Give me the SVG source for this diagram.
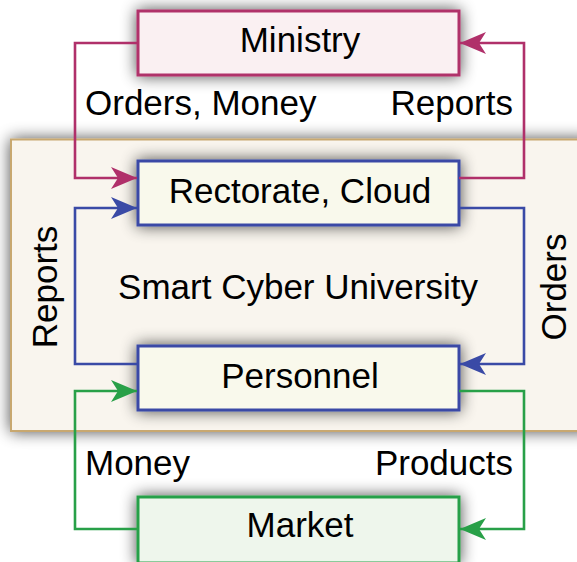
<svg xmlns="http://www.w3.org/2000/svg" width="577" height="562" viewBox="0 0 577 562">
<defs>
<filter id="sh" x="-20%" y="-40%" width="140%" height="180%">
<feGaussianBlur in="SourceAlpha" stdDeviation="8"/>
<feComponentTransfer><feFuncA type="linear" slope="0.7"/></feComponentTransfer>
<feMerge><feMergeNode/><feMergeNode in="SourceGraphic"/></feMerge>
</filter>
<marker id="ap" markerUnits="userSpaceOnUse" markerWidth="26" markerHeight="22" refX="26" refY="11" orient="auto"><path d="M0,0 L26,11 L0,22 L7,11 z" fill="#b0306a"/></marker>
<marker id="ab" markerUnits="userSpaceOnUse" markerWidth="26" markerHeight="22" refX="26" refY="11" orient="auto"><path d="M0,0 L26,11 L0,22 L7,11 z" fill="#3a4aa6"/></marker>
<marker id="ag" markerUnits="userSpaceOnUse" markerWidth="26" markerHeight="22" refX="26" refY="11" orient="auto"><path d="M0,0 L26,11 L0,22 L7,11 z" fill="#28a048"/></marker>
</defs>
<style>
text{font-family:"Liberation Sans",Arial,sans-serif;font-size:35px;fill:#000}
.c{text-anchor:middle}
.e{text-anchor:end}
.box{stroke-width:3}
.con{fill:none;stroke-width:2.6}
</style>
<rect width="577" height="562" fill="#ffffff"/>
<g id="panel">
<rect x="11" y="139.5" width="580" height="291.5" fill="#f9f5ee" stroke="#c8a870" stroke-width="2" filter="url(#sh)"/>
<text class="c" x="298" y="299">Smart Cyber University</text>
</g>
<g id="ministry">
<rect class="box" x="138" y="11" width="321" height="64" fill="#faf0f2" stroke="#b0306a" filter="url(#sh)"/>
<text class="c" x="300" y="52">Ministry</text>
</g>
<g id="rectorate">
<rect class="box" x="138" y="161" width="321" height="64" fill="#f9f9ec" stroke="#3a4aa6" filter="url(#sh)"/>
<text class="c" x="300" y="203">Rectorate, Cloud</text>
</g>
<g id="personnel">
<rect class="box" x="138" y="346" width="321" height="64" fill="#f9f9ec" stroke="#3a4aa6" filter="url(#sh)"/>
<text class="c" x="300" y="388">Personnel</text>
</g>
<g id="market">
<rect class="box" x="138" y="497" width="321" height="66" fill="#eef6ec" stroke="#28a048" filter="url(#sh)"/>
<text class="c" x="300" y="537">Market</text>
</g>
<g id="connectors">
<path class="con" d="M138,43 H75 V178 H137" stroke="#b0306a" marker-end="url(#ap)"/>
<path class="con" d="M459,178 H524 V43 H460" stroke="#b0306a" marker-end="url(#ap)"/>
<path class="con" d="M138,364 H75 V208 H137" stroke="#3a4aa6" marker-end="url(#ab)"/>
<path class="con" d="M459,208 H524 V364 H460" stroke="#3a4aa6" marker-end="url(#ab)"/>
<path class="con" d="M138,529 H75 V391 H137" stroke="#28a048" marker-end="url(#ag)"/>
<path class="con" d="M459,391 H524 V529 H460" stroke="#28a048" marker-end="url(#ag)"/>
</g>
<g id="labels">
<text x="85" y="115">Orders, Money</text>
<text class="e" x="513" y="115">Reports</text>
<text class="c" transform="translate(57,287) rotate(-90)">Reports</text>
<text class="c" transform="translate(566,287) rotate(-90)">Orders</text>
<text x="85" y="475">Money</text>
<text class="e" x="513" y="475">Products</text>
</g>
</svg>
